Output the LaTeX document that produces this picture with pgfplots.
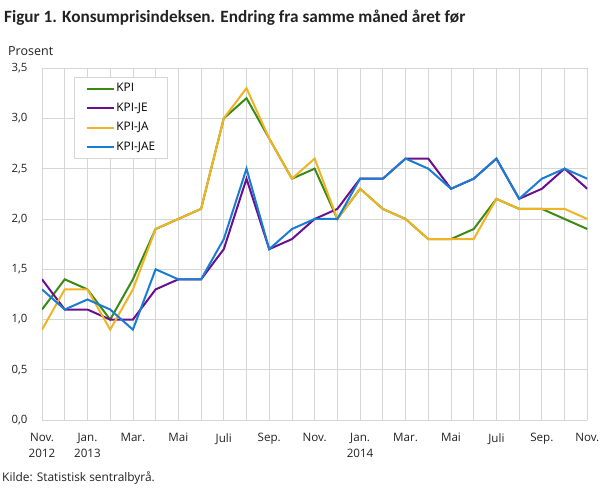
\documentclass[border=0pt]{standalone}
\usepackage{fontspec}
\setmainfont{Open Sans}
\newfontfamily\titlefont{Carlito}
\usepackage{pgfplots}
\pgfplotsset{compat=1.18}
\usetikzlibrary{calc}
\definecolor{kpi}{HTML}{3A8A14}
\definecolor{kpije}{HTML}{6A0F8E}
\definecolor{kpija}{HTML}{F0B323}
\definecolor{kpijae}{HTML}{1A7DD4}
\definecolor{gridc}{HTML}{D6D6D6}
\definecolor{txt}{HTML}{222222}
\begin{document}
\begin{tikzpicture}
\begin{axis}[
  scale only axis, width=545pt, height=352pt,
  xmin=0, xmax=24, ymin=0, ymax=3.5,
  xtick={0,...,24},
  xticklabels={Nov.\\2012,,Jan.\\2013,,Mar.,,Mai,,Juli,,Sep.,,Nov.,,Jan.\\2014,,Mar.,,Mai,,Juli,,Sep.,,Nov.},
  xticklabel style={align=center, font=\fontsize{11.6}{16}\selectfont, text=txt, yshift=-9.5pt},
  ytick={0,0.5,1,1.5,2,2.5,3,3.5},
  yticklabel style={font=\fontsize{11.4}{13}\selectfont, text=txt, xshift=-11pt},
  /pgf/number format/.cd, fixed, fixed zerofill, precision=1, use comma, assume math mode=true,
  /pgfplots/.cd,
  grid=major, major grid style={gridc, line width=0.8pt},
  axis line style={draw=none},
  tick style={draw=none},
  legend style={at={(32.3/545,1-9.3/352)}, anchor=north west, draw=gridc, line width=0.8pt,
    font=\fontsize{11.8}{13}\selectfont, row sep=6pt, column sep=0pt,
    inner xsep=11pt, inner ysep=4.5pt,
    nodes={inner xsep=1pt, inner ysep=1pt, text height=8.6pt, text depth=2.8pt}},
  legend cell align=left,
  legend image code/.code={\draw[#1, line width=2pt] (0pt,0pt) -- (27.7pt,0pt);},
  every axis plot/.append style={line width=2pt, mark=none},
]
\addplot[kpi] coordinates {(0,1.1)(1,1.4)(2,1.3)(3,1.0)(4,1.4)(5,1.9)(6,2.0)(7,2.1)(8,3.0)(9,3.2)(10,2.8)(11,2.4)(12,2.5)(13,2.0)(14,2.3)(15,2.1)(16,2.0)(17,1.8)(18,1.8)(19,1.9)(20,2.2)(21,2.1)(22,2.1)(23,2.0)(24,1.9)};
\addlegendentry{KPI}
\addplot[kpije] coordinates {(0,1.4)(1,1.1)(2,1.1)(3,1.0)(4,1.0)(5,1.3)(6,1.4)(7,1.4)(8,1.7)(9,2.4)(10,1.7)(11,1.8)(12,2.0)(13,2.1)(14,2.4)(15,2.4)(16,2.6)(17,2.6)(18,2.3)(19,2.4)(20,2.6)(21,2.2)(22,2.3)(23,2.5)(24,2.3)};
\addlegendentry{KPI-JE}
\addplot[kpija] coordinates {(0,0.9)(1,1.3)(2,1.3)(3,0.9)(4,1.3)(5,1.9)(6,2.0)(7,2.1)(8,3.0)(9,3.3)(10,2.8)(11,2.4)(12,2.6)(13,2.0)(14,2.3)(15,2.1)(16,2.0)(17,1.8)(18,1.8)(19,1.8)(20,2.2)(21,2.1)(22,2.1)(23,2.1)(24,2.0)};
\addlegendentry{KPI-JA}
\addplot[kpijae] coordinates {(0,1.3)(1,1.1)(2,1.2)(3,1.1)(4,0.9)(5,1.5)(6,1.4)(7,1.4)(8,1.8)(9,2.5)(10,1.7)(11,1.9)(12,2.0)(13,2.0)(14,2.4)(15,2.4)(16,2.6)(17,2.5)(18,2.3)(19,2.4)(20,2.6)(21,2.2)(22,2.4)(23,2.5)(24,2.4)};
\addlegendentry{KPI-JAE}
\end{axis}
\node[anchor=base west, inner sep=0pt, font=\titlefont\fontsize{17.2}{20}\selectfont\bfseries, text=txt] at ($(current axis.north west)+(-38pt,45.3pt)$) {Figur 1. Konsumprisindeksen. Endring fra samme måned året før};
\node[anchor=base west, inner sep=0pt, font=\fontsize{12.5}{14}\selectfont, text=txt] at ($(current axis.north west)+(-34pt,12.3pt)$) {Prosent};
\node[anchor=base west, inner sep=0pt, font=\fontsize{11.9}{13}\selectfont, text=txt] at ($(current axis.south west)+(-40pt,-61.7pt)$) {Kilde: Statistisk sentralbyrå.};
\useasboundingbox ($(current axis.south west)+(-42pt,-69pt)$) rectangle ($(current axis.north east)+(21.7pt,68pt)$);
\end{tikzpicture}
\end{document}
